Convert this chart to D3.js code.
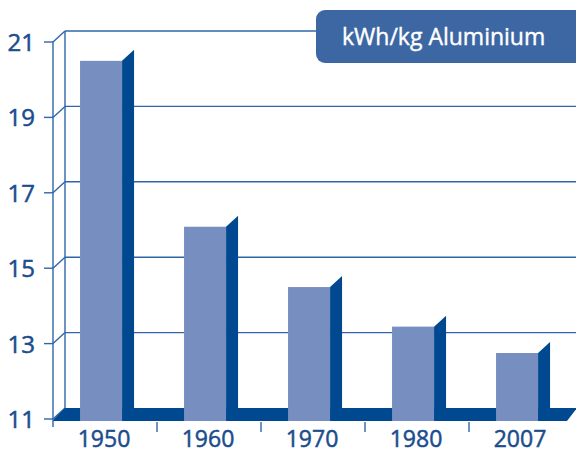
<!DOCTYPE html>
<html>
<head>
<meta charset="utf-8">
<script src="https://cdn.jsdelivr.net/npm/d3@7"></script>
<style>
  body { margin: 0; background: #fff; }
  svg { display: block; font-family: "Open Sans", "Liberation Sans", Arial, sans-serif; }
</style>
</head>
<body>
<div id="chart"></div>
<script>
var w = 576,
    h = 452;

// chart data
var years = ["1950", "1960", "1970", "1980", "2007"];
var energy = [20.5, 16.1, 14.5, 13.45, 12.75];
var yTicks = [11, 13, 15, 17, 19, 21];
var unitLabel = "kWh/kg Aluminium";

// colours
var lineColor = "#2f66aa",
    textColor = "#1b4d8e",
    frontColor = "#778ec0",
    darkColor = "#004990",
    boxColor = "#3d67a3";

// 3d depth offset
var dx = 12,
    dy = -11;

var svg = d3.select("#chart").append("svg")
    .attr("width", w)
    .attr("height", h);

// scales
var x = d3.scaleBand()
    .domain(years)
    .range([53, 573])
    .paddingInner(0)
    .paddingOuter(0);

var y = d3.scaleLinear()
    .domain([11, 21])
    .range([419, 42]);

var barOffset = x.bandwidth() * 0.26,
    barWidth = x.bandwidth() * 0.404;

var x0 = x.range()[0],
    xBack = x0 + dx,
    floorY = y(11);

// back wall gridlines
svg.append("g").selectAll("line")
    .data(yTicks.slice(1))
    .enter().append("line")
    .attr("x1", xBack)
    .attr("x2", w)
    .attr("y1", function(d) { return y(d) + dy; })
    .attr("y2", function(d) { return y(d) + dy; })
    .attr("stroke", lineColor)
    .attr("stroke-width", 1.4);

// connectors front axis -> back wall
svg.append("g").selectAll("line")
    .data(yTicks)
    .enter().append("line")
    .attr("x1", x0)
    .attr("x2", xBack)
    .attr("y1", function(d) { return y(d); })
    .attr("y2", function(d) { return y(d) + dy; })
    .attr("stroke", lineColor)
    .attr("stroke-width", 1.4);

// back wall vertical
svg.append("line")
    .attr("x1", xBack).attr("x2", xBack)
    .attr("y1", y(21) + dy).attr("y2", floorY + dy)
    .attr("stroke", lineColor)
    .attr("stroke-width", 1.4);

// floor
var xEnd = x.range()[1];
svg.append("path")
    .attr("d", "M" + x0 + "," + (floorY + 1) +
        "L" + xBack + "," + (floorY + dy) +
        "L" + (xEnd + 4) + "," + (floorY + dy) +
        "L" + (xEnd - 6) + "," + (floorY + 2) +
        "L" + x0 + "," + (floorY + 2) + "Z")
    .attr("fill", darkColor);

// bars
var bars = svg.append("g").selectAll("g")
    .data(years)
    .enter().append("g");

bars.append("path")
    .attr("d", function(d, i) {
        var x1 = x(d) + barOffset + barWidth,
            top = y(energy[i]);
        return "M" + x1 + "," + top +
            "L" + (x1 + dx) + "," + (top + dy) +
            "L" + (x1 + dx) + "," + (floorY + dy) +
            "L" + x1 + "," + floorY + "Z";
    })
    .attr("fill", darkColor);

bars.append("rect")
    .attr("x", function(d) { return x(d) + barOffset; })
    .attr("y", function(d, i) { return y(energy[i]); })
    .attr("width", barWidth)
    .attr("height", function(d, i) { return floorY + 2 - y(energy[i]); })
    .attr("fill", frontColor);

// front y axis
svg.append("line")
    .attr("x1", x0).attr("x2", x0)
    .attr("y1", y(21)).attr("y2", floorY + 8)
    .attr("stroke", lineColor)
    .attr("stroke-width", 1.4);

svg.append("g").selectAll("line")
    .data(yTicks)
    .enter().append("line")
    .attr("x1", x0 - 9)
    .attr("x2", x0)
    .attr("y1", function(d) { return y(d); })
    .attr("y2", function(d) { return y(d); })
    .attr("stroke", lineColor)
    .attr("stroke-width", 1.4);

svg.append("g").selectAll("text")
    .data(yTicks)
    .enter().append("text")
    .attr("x", 35)
    .attr("y", function(d) { return y(d) + 9; })
    .attr("text-anchor", "end")
    .attr("font-size", 24)
    .attr("fill", textColor)
    .attr("stroke", textColor)
    .attr("stroke-width", 0.5)
    .text(function(d) { return d; });

// x axis ticks between categories
svg.append("g").selectAll("line")
    .data(years.slice(1))
    .enter().append("line")
    .attr("x1", function(d) { return x(d); })
    .attr("x2", function(d) { return x(d); })
    .attr("y1", floorY + 3)
    .attr("y2", floorY + 13)
    .attr("stroke", lineColor)
    .attr("stroke-width", 1.4);

svg.append("g").selectAll("text")
    .data(years)
    .enter().append("text")
    .attr("x", function(d) { return x(d) + x.bandwidth() / 2 - 1; })
    .attr("y", 447)
    .attr("text-anchor", "middle")
    .attr("font-size", 23)
    .attr("fill", textColor)
    .attr("stroke", textColor)
    .attr("stroke-width", 0.5)
    .text(function(d) { return d; });

// unit label box
svg.append("rect")
    .attr("x", 316)
    .attr("y", 10)
    .attr("width", 280)
    .attr("height", 53)
    .attr("rx", 9)
    .attr("fill", boxColor);

svg.append("text")
    .attr("x", 342)
    .attr("y", 45)
    .attr("font-size", 23)
    .attr("fill", "#fff")
    .attr("stroke", "#fff")
    .attr("stroke-width", 0.4)
    .text(unitLabel);
</script>
</body>
</html>
